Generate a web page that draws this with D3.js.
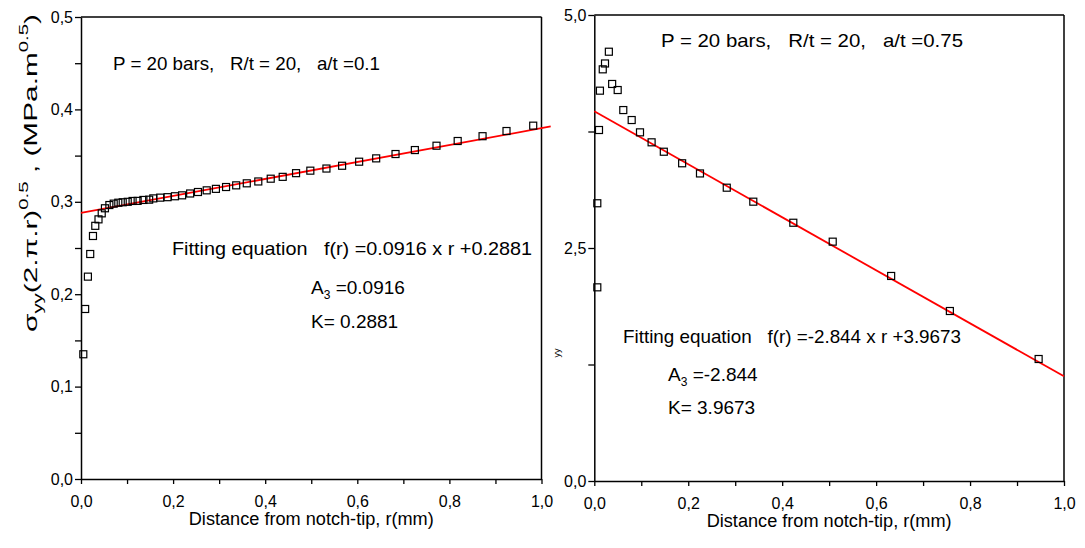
<!DOCTYPE html>
<html><head><meta charset="utf-8">
<script src="https://cdn.jsdelivr.net/npm/d3@7"></script>
<style>
html,body{margin:0;padding:0;background:#fff;}
svg text{font-family:"Liberation Sans",Arial,sans-serif;fill:#000;}
</style></head>
<body><svg id="c" width="1085" height="548"></svg>
<script>
// ---- data ----
const leftR = [0.005,0.009,0.015,0.020,0.026,0.031,0.038,0.045,0.052,0.0616,0.071,0.081,0.0906,0.1015,0.112,0.123,0.1355,0.148,
  0.157,0.172,0.188,0.204,0.2196,0.237,0.254,0.273,0.293,0.315,0.337,0.360,0.385,0.412,0.438,0.467,0.498,0.533,0.567,
  0.604,0.641,0.683,0.725,0.772,0.818,0.872,0.924,0.982];
const leftV = [0.135,0.184,0.219,0.2435,0.263,0.274,0.281,0.2875,0.293,0.2965,0.298,0.299,0.2995,0.300,0.3009,0.301,0.302,0.3023,
  0.3037,0.3045,0.305,0.306,0.307,0.309,0.3106,0.3124,0.314,0.316,0.3178,0.320,0.322,0.325,0.327,0.331,0.3337,0.336,0.339,
  0.3434,0.347,0.3517,0.356,0.3607,0.3658,0.371,0.3766,0.3824];
const rightR = [0.0064,0.0064,0.010,0.012,0.018,0.0228,0.031,0.038,0.0498,0.0617,0.0796,0.0973,0.122,0.148,0.187,0.225,0.282,
  0.3385,0.4237,0.5076,0.632,0.757,0.946];
const rightV = [2.078,2.98,3.766,4.188,4.417,4.48,4.606,4.26,4.195,3.98,3.873,3.741,3.634,3.533,3.409,3.30,3.147,
  2.997,2.771,2.568,2.20,1.824,1.309];
const leftFit = {slope:0.0916, intercept:0.2881, from:0, to:1.02};
const rightFit = {slope:-2.844, intercept:3.9673, from:0, to:1.0};
const xTicks = [0,0.1,0.2,0.3,0.4,0.5,0.6,0.7,0.8,0.9,1.0];
const xLabeled = [0,0.2,0.4,0.6,0.8,1.0];
const leftYTicks = [0,0.05,0.1,0.15,0.2,0.25,0.3,0.35,0.4,0.45,0.5];
const leftYLabeled = [0,0.1,0.2,0.3,0.4,0.5];
const rightYTicks = [0,1.25,2.5,3.75,5.0];
const rightYLabeled = [0,2.5,5.0];
const xTitle = "Distance from notch-tip, r(mm)";
const leftCond = "P = 20 bars,   R/t = 20,   a/t =0.1";
const rightCond = "P = 20 bars,   R/t = 20,   a/t =0.75";
const leftEq = "Fitting equation   f(r) =0.0916 x r +0.2881";
const rightEq = "Fitting equation   f(r) =-2.844 x r +3.9673";
const leftA3 = "=0.0916", leftK = "K= 0.2881";
const rightA3 = "=-2.844", rightK = "K= 3.9673";

const svg = d3.select("#c");
const fmt = (d, dec) => d.toFixed(dec).replace(".", ",");
const near = (arr, d) => arr.some(v => Math.abs(v - d) < 1e-9);

function txt(g, x, y, str, size, width, anchor){
  const t = g.append("text").attr("x",x).attr("y",y).attr("font-size",size)
    .style("white-space","pre").text(str);
  if (anchor) t.attr("text-anchor",anchor);
  if (width) t.attr("textLength",width).attr("lengthAdjust","spacingAndGlyphs");
  return t;
}

function panel(o){
  const x = d3.scaleLinear().domain([0,1]).range([o.x0, o.x1]);
  const y = d3.scaleLinear().domain([0,o.ymax]).range([o.y0, o.y1]);
  const g = svg.append("g");
  g.append("line").attr("x1",o.x0).attr("x2",o.x1).attr("y1",o.y1).attr("y2",o.y1).attr("stroke","#000").attr("stroke-width",1.5);
  g.append("line").attr("x1",o.x1).attr("x2",o.x1).attr("y1",o.y1).attr("y2",o.y0).attr("stroke","#000").attr("stroke-width",1.5);
  const xa = g.append("g").attr("transform",`translate(0,${o.y0})`)
    .call(d3.axisBottom(x).tickValues(xTicks).tickSize(5).tickSizeOuter(0)
      .tickFormat(d => near(xLabeled,d) ? fmt(d,1) : ""));
  xa.select(".domain").attr("stroke-width",1.5);
  xa.selectAll(".tick line").attr("stroke-width",1.3);
  xa.selectAll(".tick text").attr("font-size",16).attr("dy",null).attr("y",28);
  const ya = g.append("g").attr("transform",`translate(${o.x0},0)`)
    .call(d3.axisLeft(y).tickValues(o.yTicks).tickSize(6).tickSizeOuter(0)
      .tickFormat(d => near(o.yLabeled,d) ? fmt(d,1) : ""));
  ya.select(".domain").attr("stroke-width",1.5);
  ya.selectAll(".tick line").attr("stroke-width",1.3);
  ya.selectAll(".tick text").attr("font-size",16).attr("x",-8);
  g.append("line")
    .attr("x1",x(o.fit.from)).attr("y1",y(o.fit.slope*o.fit.from+o.fit.intercept))
    .attr("x2",x(o.fit.to)).attr("y2",y(o.fit.slope*o.fit.to+o.fit.intercept))
    .attr("stroke","#ff0000").attr("stroke-width",1.8);
  const s = 7;
  g.selectAll("rect.pt").data(o.r.map((r,i)=>[r,o.v[i]])).join("rect").attr("class","pt")
    .attr("x",d=>x(d[0])-s/2).attr("y",d=>y(d[1])-s/2).attr("width",s).attr("height",s)
    .attr("fill","none").attr("stroke","#000").attr("stroke-width",1.2);
  txt(g, (o.x0+o.x1)/2, o.y0+46, xTitle, 18, 245, "middle");
  txt(g, o.condX, o.condY, o.cond, 19, o.condW);
  txt(g, o.eqX, o.eqY, o.eq, 19, o.eqW);
  const a = g.append("text").attr("x",o.aX).attr("y",o.aY).attr("font-size",19).style("white-space","pre");
  a.append("tspan").text("A");
  a.append("tspan").attr("font-size",12).attr("dy",5).text("3");
  a.append("tspan").attr("dy",-5).text(" " + o.a3);
  txt(g, o.aX, o.kY, o.k, 19, null);
  return {x,y};
}

panel({x0:81,x1:541.5,y0:479,y1:17,ymax:0.5,yTicks:leftYTicks,yLabeled:leftYLabeled,fit:leftFit,r:leftR,v:leftV,
  cond:leftCond,condX:113,condY:70,condW:267,eqX:172,eqY:255,eq:leftEq,eqW:360,
  a3:leftA3,k:leftK,aX:311,aY:294,kY:328});
panel({x0:594.3,x1:1064,y0:481,y1:15,ymax:5.0,yTicks:rightYTicks,yLabeled:rightYLabeled,fit:rightFit,r:rightR,v:rightV,
  cond:rightCond,condX:661,condY:47,condW:302,eqX:623,eqY:343,eq:rightEq,eqW:338,
  a3:rightA3,k:rightK,aX:668,aY:381,kY:414});

// left y title
const yt = svg.append("text").attr("transform","translate(37,173) rotate(-90)").attr("text-anchor","middle")
  .attr("font-size",19).attr("textLength",318).attr("lengthAdjust","spacingAndGlyphs");
yt.append("tspan").text("σ");
yt.append("tspan").attr("font-size",13).attr("dy",5).text("yy");
yt.append("tspan").attr("dy",-5).text("(2.π.r)");
yt.append("tspan").attr("font-size",13).attr("dy",-9).text("0.5");
yt.append("tspan").attr("dy",9).text(" , (MPa.m");
yt.append("tspan").attr("font-size",13).attr("dy",-9).text("0.5");
yt.append("tspan").attr("dy",9).text(")");
// clipped remnant of right y title
svg.append("text").attr("transform","translate(560,353) rotate(-90)").attr("text-anchor","middle")
  .attr("font-size",9).text("yy");
</script></body></html>
